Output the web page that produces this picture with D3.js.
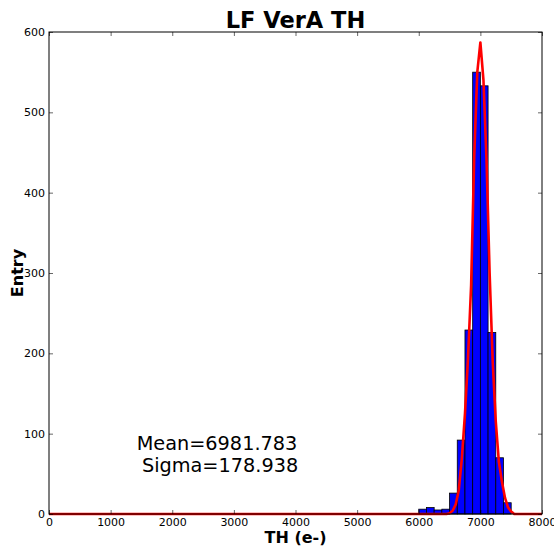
<!DOCTYPE html>
<html>
<head>
<meta charset="utf-8">
<script src="https://cdn.jsdelivr.net/npm/d3@7"></script>
<style>
    body { margin: 0; background: #fff; }
    text { font-family: "DejaVu Sans", sans-serif; }
</style>
</head>
<body>
<div id="chart"></div>
<script>
// histogram bins (left edge, width 125) and counts
const binStarts = [6000, 6125, 6250, 6375, 6500, 6625, 6750, 6875, 7000, 7125, 7250, 7375];
const binWidth = 125;
const counts = [6, 8, 5, 6, 26, 92, 229, 550, 533, 226, 70, 14];

// gaussian fit curve
const fitX = [0, 6400, 6450, 6500, 6550, 6600, 6650, 6700, 6750, 6800, 6850, 6900, 6950, 7000,
    7050, 7100, 7150, 7200, 7250, 7300, 7350, 7400, 7450, 7500, 7550, 7600, 8000];
const fitY = [0, 0, 0, 1, 4, 12, 30, 70, 125, 195, 285, 445, 550, 587,
    540, 440, 300, 190, 115, 65, 40, 20, 8, 3, 0, 0, 0];

const xTicks = [0, 1000, 2000, 3000, 4000, 5000, 6000, 7000, 8000];
const yTicks = [0, 100, 200, 300, 400, 500, 600];

const WIDTH = 554, HEIGHT = 546;
const margins = { top: 32, left: 49, bottom: 32, right: 12 };
const width = WIDTH - margins.left - margins.right,
    height = HEIGHT - margins.top - margins.bottom;

const svg = d3.select("#chart")
    .append("svg")
    .attr("width", WIDTH)
    .attr("height", HEIGHT);

const x = d3.scaleLinear().domain([0, 8000]).range([0, width]);
const y = d3.scaleLinear().domain([0, 600]).range([height, 0]);

const plot = svg.append("g")
    .attr("transform", `translate(${margins.left}, ${margins.top})`);

// bars
plot.selectAll("rect.bar")
    .data(binStarts)
    .join("rect")
    .attr("class", "bar")
    .attr("x", d => x(d))
    .attr("width", d => x(d + binWidth) - x(d))
    .attr("y", (d, i) => y(counts[i]))
    .attr("height", (d, i) => y(0) - y(counts[i]))
    .attr("fill", "#0000ff")
    .attr("stroke", "#000")
    .attr("stroke-width", 0.8);

// fit line
const line = d3.line()
    .x(d => x(d[0]))
    .y(d => y(d[1]));

plot.append("path")
    .datum(fitX.map((v, i) => [v, fitY[i]]))
    .attr("d", line)
    .attr("fill", "none")
    .attr("stroke", "#ff0000")
    .attr("stroke-width", 2.6)
    .attr("stroke-linejoin", "round");

// axes, matplotlib classic style: ticks inside on all sides
const styleAxis = (g) => {
    g.select(".domain").remove();
    g.selectAll(".tick line").attr("stroke", "#000").attr("stroke-width", 0.6);
    g.selectAll(".tick text").attr("font-size", 11).attr("fill", "#000")
        .attr("font-family", "DejaVu Sans, sans-serif");
};

plot.append("g")
    .attr("transform", `translate(0, ${height})`)
    .call(d3.axisBottom(x).tickValues(xTicks).tickSizeInner(-4).tickSizeOuter(0).tickPadding(4).tickFormat(d3.format("d")))
    .call(styleAxis);

plot.append("g")
    .call(d3.axisTop(x).tickValues(xTicks).tickSizeInner(-4).tickSizeOuter(0).tickFormat(""))
    .call(styleAxis);

plot.append("g")
    .call(d3.axisLeft(y).tickValues(yTicks).tickSizeInner(-4).tickSizeOuter(0).tickPadding(4).tickFormat(d3.format("d")))
    .call(styleAxis);

plot.append("g")
    .attr("transform", `translate(${width}, 0)`)
    .call(d3.axisRight(y).tickValues(yTicks).tickSizeInner(-4).tickSizeOuter(0).tickFormat(""))
    .call(styleAxis);

plot.append("rect")
    .attr("width", width)
    .attr("height", height)
    .attr("fill", "none")
    .attr("stroke", "#000")
    .attr("stroke-width", 1);

// titles
svg.append("text")
    .attr("x", margins.left + width / 2)
    .attr("y", 28)
    .attr("text-anchor", "middle")
    .attr("font-size", 22.5)
    .attr("font-weight", "bold")
    .text("LF VerA TH");

svg.append("text")
    .attr("x", margins.left + width / 2)
    .attr("y", 543)
    .attr("text-anchor", "middle")
    .attr("font-size", 16)
    .attr("font-weight", "bold")
    .text("TH (e-)");

svg.append("text")
    .attr("transform", `translate(23, ${margins.top + height / 2}) rotate(-90)`)
    .attr("text-anchor", "middle")
    .attr("font-size", 16)
    .attr("font-weight", "bold")
    .text("Entry");

// stats annotation
const stats = svg.append("text")
    .attr("font-size", 19.3)
    .attr("text-anchor", "middle")
    .attr("xml:space", "preserve")
    .style("white-space", "pre");

stats.append("tspan").attr("x", 217).attr("y", 450).text("Mean=6981.783");
stats.append("tspan").attr("x", 217).attr("y", 472).text(" Sigma=178.938");
</script>
</body>
</html>
